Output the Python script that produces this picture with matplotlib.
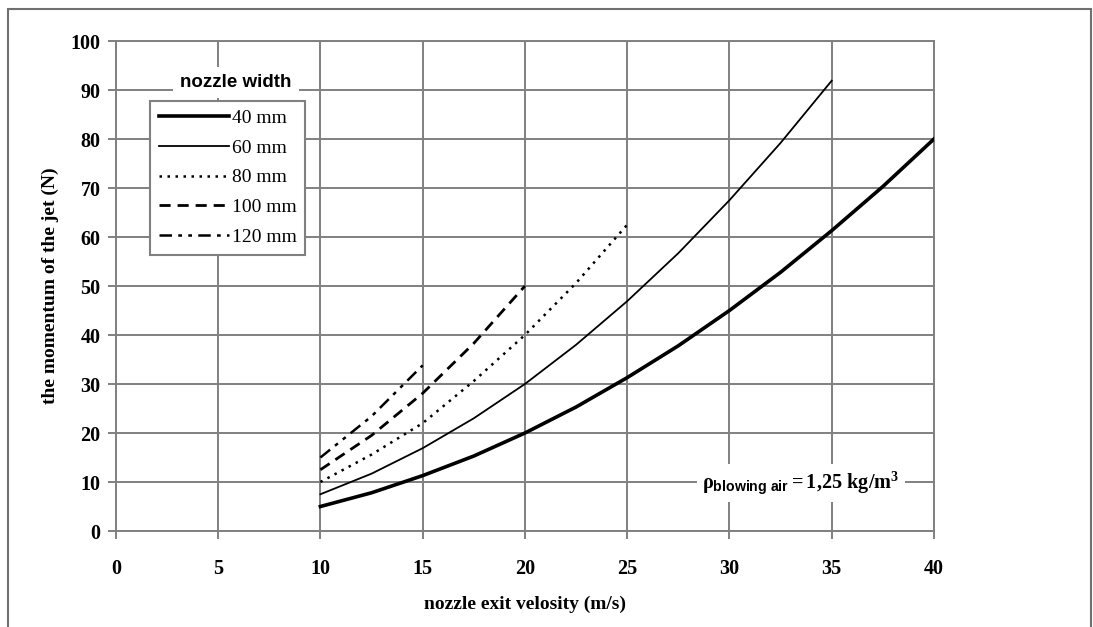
import matplotlib
matplotlib.use("Agg")
import matplotlib.pyplot as plt
from matplotlib.patches import Rectangle

# ---- data ----
v40 = [10, 12.5, 15, 17.5, 20, 22.5, 25, 27.5, 30, 32.5, 35, 37.5, 40]
m40 = [5, 7.8, 11.3, 15.3, 20, 25.3, 31.3, 37.8, 45, 52.8, 61.3, 70.3, 80]
v60 = [10, 12.5, 15, 17.5, 20, 22.5, 25, 27.5, 30, 32.5, 35]
m60 = [7.5, 11.7, 16.9, 23, 30, 38, 46.9, 56.7, 67.5, 79.2, 91.9]
v80 = [10, 12.5, 15, 17.5, 20, 22.5, 25]
m80 = [10, 15.6, 22, 30.6, 40, 50.6, 62.5]
v100 = [10, 12.5, 15, 17.5, 20]
m100 = [12.5, 19.5, 28.1, 38.3, 50]
v120 = [10, 12.5, 15]
m120 = [15, 23.4, 33.8]
labels = ["40 mm", "60 mm", "80 mm", "100 mm", "120 mm"]
xticks = [0, 5, 10, 15, 20, 25, 30, 35, 40]
yticks = [0, 10, 20, 30, 40, 50, 60, 70, 80, 90, 100]

serif = "Liberation Serif"
sans = "Liberation Sans"
grid_c = "#808080"

plt.rcParams["mathtext.fontset"] = "custom"
plt.rcParams["mathtext.rm"] = "Liberation Serif:bold"
plt.rcParams["mathtext.bf"] = "Liberation Serif:bold"
plt.rcParams["mathtext.sf"] = "Liberation Sans:bold"
plt.rcParams["mathtext.it"] = "Liberation Serif:bold"

fig = plt.figure(figsize=(10.93, 6.27), dpi=100)
ax = fig.add_axes([0.106, 0.1531, 0.7485, 0.7815])

styles = [
    dict(lw=2.6, ls="-"),
    dict(lw=1.3, ls="-"),
    dict(lw=1.8, ls=(0, (1, 2.2))),
    dict(lw=2.0, ls=(0, (4, 2.5))),
    dict(lw=1.8, ls=(0, (5, 2.5, 1.5, 2.5, 1.5, 2.5))),
]
series = [(v40, m40), (v60, m60), (v80, m80), (v100, m100), (v120, m120)]
handles = []
for (xv, yv), st, lab in zip(series, styles, labels):
    h, = ax.plot(xv, yv, color="black", label=lab, zorder=3, **st)
    handles.append(h)

ax.set_xlim(0, 40)
ax.set_ylim(0, 100)
ax.set_xticks(xticks)
ax.set_yticks(yticks)
ax.grid(True, color=grid_c, lw=1.4)
ax.set_axisbelow(True)
for s in ax.spines.values():
    s.set_color(grid_c)
    s.set_linewidth(1.4)
ax.tick_params(axis="both", color=grid_c, width=1.4, length=6, direction="out")
ax.tick_params(axis="x", pad=14)
ax.tick_params(axis="y", pad=5)
for lab in ax.get_xticklabels() + ax.get_yticklabels():
    lab.set_fontfamily(serif)
    lab.set_fontweight("bold")
    lab.set_fontsize(14.5)

ax.set_xlabel("nozzle exit velosity (m/s)", fontfamily=serif, fontweight="bold",
              fontsize=14, labelpad=12)
ax.set_ylabel("the momentum of the jet (N)", fontfamily=serif, fontweight="bold",
              fontsize=14, labelpad=8)

leg = ax.legend(handles=handles, loc="upper left", bbox_to_anchor=(0.0416, 0.878),
                prop=dict(family=serif, size=14), handlelength=3.6,
                handletextpad=0.15, labelspacing=0.62, borderpad=0.45,
                fancybox=False, framealpha=1, edgecolor=grid_c,
                borderaxespad=0)
leg.get_frame().set_linewidth(1.5)
leg.set_zorder(5)

ax.text(0.147, 0.915, "nozzle width", transform=ax.transAxes, ha="center", va="center",
        fontfamily=sans, fontweight="bold", fontsize=13.5, zorder=6,
        bbox=dict(facecolor="white", edgecolor="none", pad=5))

ax.text(33.5, 9.8, r"$\mathrm{\rho}_{\mathsf{blowing\ air}}\mathrm{=1{,}25\ kg/m^{3}}$",
        ha="center", va="center", fontsize=14.5,
        zorder=6, bbox=dict(facecolor="white", edgecolor="none", pad=4))

fig.patches.append(Rectangle((8 / 1093, -0.05), (1091 - 8) / 1093, 1.05 - 9 / 627,
                             transform=fig.transFigure, fill=False,
                             edgecolor="#707070", lw=1.5))

fig.savefig("out.png", dpi=100)
